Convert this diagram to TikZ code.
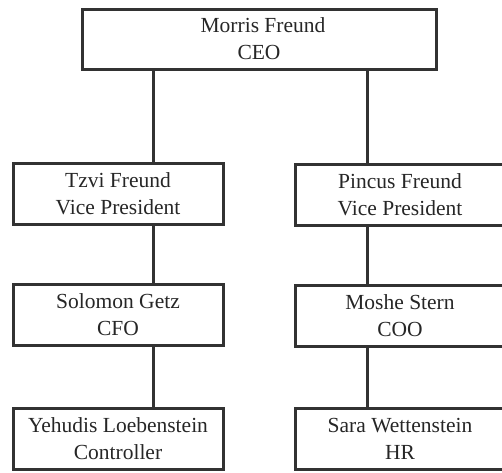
\documentclass[tikz,border=0pt]{standalone}
\usepackage{fontspec}
\setmainfont{Liberation Serif}
\definecolor{ink}{RGB}{50,50,50}
\begin{document}
\begin{tikzpicture}[x=1pt,y=-1pt,
  box/.style={draw=ink, line width=3pt, rectangle, inner sep=0pt,
    minimum width=210pt, minimum height=61pt, align=center,
    font=\fontsize{21.5}{27}\selectfont, text=black!85},
  link/.style={draw=ink, line width=3pt}]
\clip (0,0) rectangle (502,472);
\node[box, minimum width=354pt, minimum height=60pt] (ceo) at (259,39) {\hspace*{8pt}Morris Freund\\CEO};
\node[box] (tzvi) at (118,193.5) {Tzvi Freund\\Vice President};
\node[box] (solomon) at (118,314.5) {Solomon Getz\\CFO};
\node[box] (yehudis) at (118,438.5) {Yehudis Loebenstein\\Controller};
\node[box] (pincus) at (400,194.5) {Pincus Freund\\Vice President};
\node[box] (moshe) at (400,315.5) {Moshe Stern\\COO};
\node[box] (sara) at (400,439) {Sara Wettenstein\\HR};
\draw[link] ([xshift=35pt]tzvi.north |- ceo.south) -- ([xshift=35pt]tzvi.north);
\draw[link] ([xshift=-33pt]pincus.north |- ceo.south) -- ([xshift=-33pt]pincus.north);
\draw[link] ([xshift=35pt]tzvi.south) -- ([xshift=35pt]solomon.north);
\draw[link] ([xshift=35pt]solomon.south) -- ([xshift=35pt]yehudis.north);
\draw[link] ([xshift=-33pt]pincus.south) -- ([xshift=-33pt]moshe.north);
\draw[link] ([xshift=-33pt]moshe.south) -- ([xshift=-33pt]sara.north);
\end{tikzpicture}
\end{document}
